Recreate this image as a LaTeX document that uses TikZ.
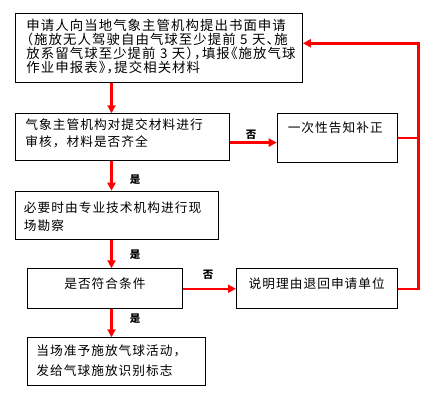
\documentclass[tikz,border=0pt]{standalone}
\usepackage{fontspec}
\newfontfamily\cjk[LetterSpace=8]{Noto Sans CJK SC}
\newfontfamily\cjkhalf[LetterSpace=8,RawFeature=+halt]{Noto Sans CJK SC}
\usetikzlibrary{arrows.meta, calc}
\definecolor{flowRed}{HTML}{FF0000}

\begin{document}
\begin{tikzpicture}[x=1pt, y=-1pt,
    box/.style={rectangle, draw=black, line width=0.9pt, anchor=north west,
                inner ysep=0pt, align=left,
                font=\cjk\fontsize{12.7}{17}\selectfont},
    arrow/.style={-{Triangle[length=8pt,width=8pt]}, line width=2.5pt, flowRed},
    redline/.style={line width=2.5pt, flowRed},
    tag/.style={font=\cjk\fontsize{10.5}{11}\selectfont\bfseries, inner sep=0pt}
  ]
  \useasboundingbox (0,0) rectangle (435,401);

  \node[box, font=\cjkhalf\fontsize{13.4}{13.9}\selectfont, inner xsep=11pt,
        text width=265pt, text height=16.9pt, text depth=52.1pt] (apply) at (15,13)
    {申请人向当地气象主管机构提出书面申请\\（施放无人驾驶自由气球至少提前~5~天、施\\放系留气球至少提前~3~天），填报《施放气球\\作业申报表》，提交相关材料};
  \node[box, inner xsep=10pt, text width=194pt,
        text height=16pt, text depth=30.7pt] (check) at (15,113.3)
    {气象主管机构对提交材料进行\\审核，材料是否齐全};
  \node[box, inner xsep=10.6pt, text width=98.8pt,
        text height=18.8pt, text depth=29.6pt] (notify) at (276.7,113.3)
    {一次性告知补正};
  \node[box, font=\cjk\fontsize{12.7}{17.7}\selectfont, inner xsep=9pt, text width=185pt,
        text height=21.4pt, text depth=27.2pt] (survey) at (14.5,190.7)
    {必要时由专业技术机构进行现\\场勘察};
  \node[box, align=center, inner xsep=0pt, text width=154.4pt,
        text height=19.8pt, text depth=20.2pt] (decide) at (27.3,268.3)
    {是否符合条件};
  \node[box, align=center, inner xsep=0pt, text width=160.7pt,
        text height=19.8pt, text depth=20.2pt] (reject) at (236,268.3)
    {说明理由退回申请单位};
  \node[box, font=\cjk\fontsize{12.7}{20}\selectfont, inner xsep=8.7pt, text width=160.3pt,
        text height=17.5pt, text depth=30.2pt] (permit) at (27.3,337.3)
    {当场准予施放气球活动，\\发给气球施放识别标志};

  % main line down the left
  \coordinate (spine) at (111.5,0);
  \foreach \a/\b in {apply/check, check/survey, survey/decide, decide/permit}
    \draw[arrow] (\a.south -| spine) -- (\b.north -| spine);
  \foreach \i/\y in {1/180, 2/255, 3/318.3}
    \node[tag] (yes\i) at (135,\y) {是};

  % branches to the right
  \coordinate (noA) at ($(check.east)+(0,5.5)$);
  \draw[arrow] (noA) -- (noA -| notify.west);
  \draw[arrow] (decide) -- (reject);
  \node[tag] (no1) at (251,135) {否};
  \node[tag] (no2) at (208,275) {否};

  % back to the applicant
  \coordinate (back) at (418.3,43.3);
  \draw[redline] (notify.east) -- (notify.east -| back);
  \draw[arrow] (reject.east) -| (back) -- (back -| apply.east);
\end{tikzpicture}
\end{document}
